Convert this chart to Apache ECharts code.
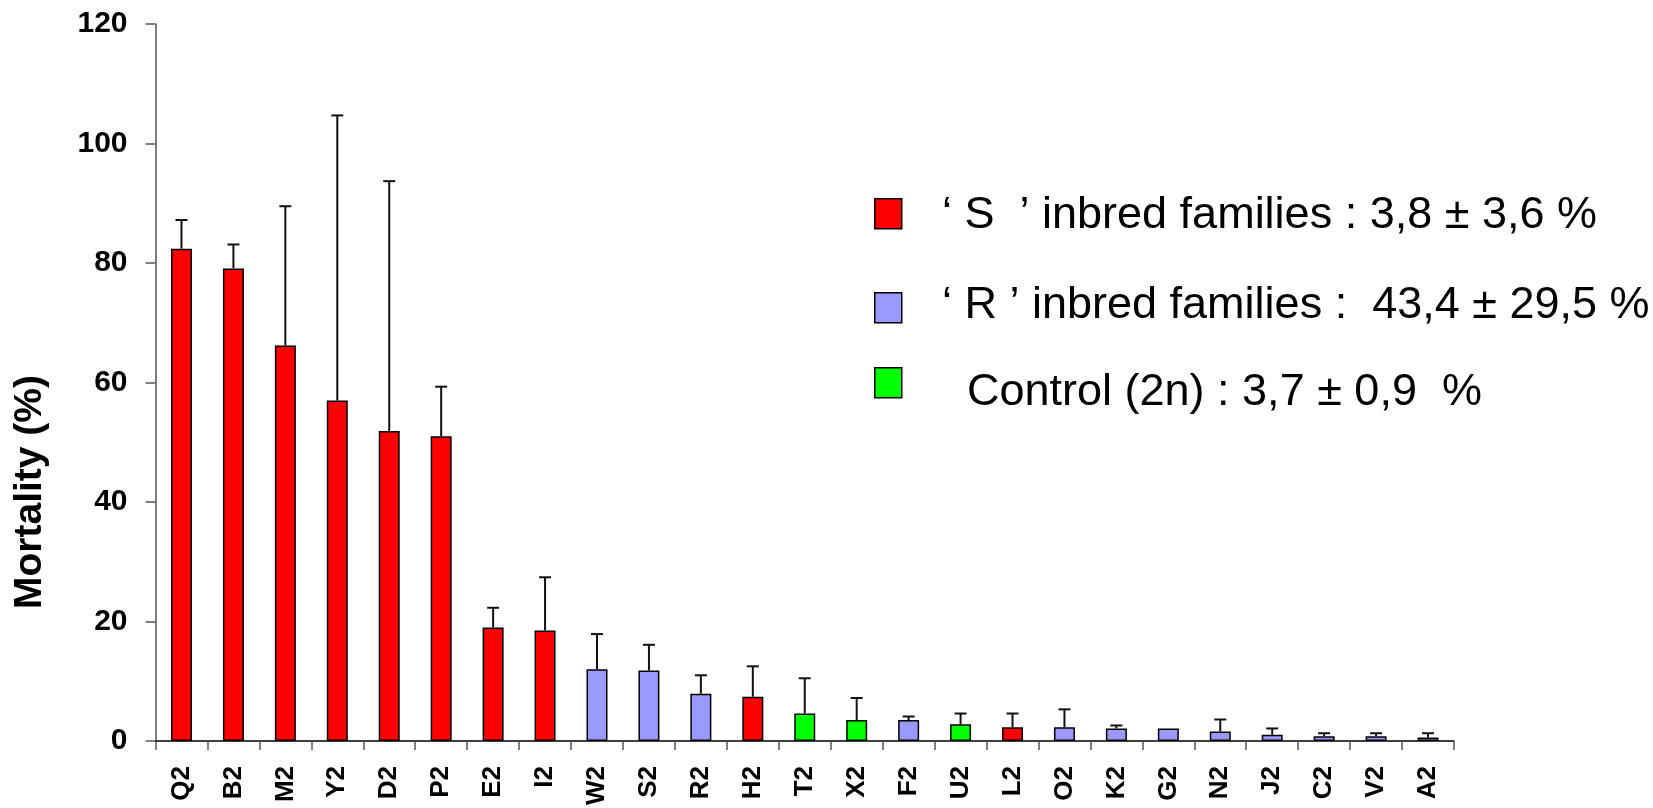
<!DOCTYPE html>
<html>
<head>
<meta charset="utf-8">
<script src="https://cdn.jsdelivr.net/npm/echarts@6.0.0/dist/echarts.min.js"></script>
<style>
html,body{margin:0;padding:0;background:#fff;}
#chart{width:1653px;height:808px;}
</style>
</head>
<body>
<div id="chart"></div>
<script>
// ---- data ----
var categories = ['Q2','B2','M2','Y2','D2','P2','E2','I2','W2','S2','R2','H2','T2','X2','F2','U2','L2','O2','K2','G2','N2','J2','C2','V2','A2'];
var mortality  = [82.4, 79.1, 66.2, 57.0, 51.9, 51.0, 19.0, 18.5, 12.0, 11.8, 7.9, 7.4, 4.6, 3.5, 3.5, 2.8, 2.3, 2.3, 2.1, 2.1, 1.6, 1.05, 0.8, 0.8, 0.6];
var errorUp    = [4.8, 4.0, 23.3, 47.7, 41.8, 8.3, 3.3, 8.9, 5.9, 4.3, 3.1, 5.1, 5.9, 3.7, 0.6, 1.8, 2.3, 3.0, 0.5, 0, 2.0, 1.05, 0.5, 0.5, 0.7];
var groups     = ['S','S','S','S','S','S','S','S','R','R','R','S','C','C','R','C','S','R','R','R','R','R','R','R','R'];
var yTicks     = {min: 0, max: 120, interval: 20};
var seriesNames = {
  S: '\u2018 S  \u2019 inbred families : 3,8 \u00B1 3,6 %',
  R: '\u2018 R \u2019 inbred families :  43,4 \u00B1 29,5 %',
  C: 'Control (2n) : 3,7 \u00B1 0,9  %'
};
var groupColors = {S: '#FF0000', R: '#9999FF', C: '#00FF00'};

function groupData(g) {
  return mortality.map(function (v, i) { return groups[i] === g ? v : '-'; });
}

var chart = echarts.init(document.getElementById('chart'), null, {renderer: 'canvas'});

var barSeries = ['S', 'R', 'C'].map(function (g) {
  return {
    name: seriesNames[g],
    type: 'bar',
    data: groupData(g),
    barWidth: 21,
    barGap: '-100%',
    itemStyle: {color: groupColors[g], borderColor: '#000', borderWidth: 1.5},
    emphasis: {disabled: true},
    z: 2
  };
});

var errSeries = {
  type: 'custom',
  name: 'err',
  z: 3,
  data: mortality.map(function (v, i) { return [i, v, v + errorUp[i]]; }),
  renderItem: function (params, api) {
    var idx = api.value(0);
    var lo = api.coord([idx, api.value(1)]);
    var hi = api.coord([idx, api.value(2)]);
    if (api.value(2) - api.value(1) <= 0) return null;
    var half = 6;
    var st = {stroke: '#111', lineWidth: 2};
    return {
      type: 'group',
      children: [
        {type: 'line', shape: {x1: lo[0], y1: lo[1], x2: hi[0], y2: hi[1]}, style: st},
        {type: 'line', shape: {x1: hi[0] - half, y1: hi[1], x2: hi[0] + half, y2: hi[1]}, style: st}
      ]
    };
  },
  silent: true
};

// legend marker (icon only)
function legendMarker(g, centerY) {
  return {
    data: [seriesNames[g]],
    left: 874,
    top: centerY - 15,
    padding: 0,
    itemWidth: 27,
    itemHeight: 30,
    icon: 'rect',
    selectedMode: false,
    formatter: function () { return ''; },
    itemStyle: {borderColor: '#000', borderWidth: 1.5},
    textStyle: {fontSize: 10, lineHeight: 10}
  };
}
// legend text (no icon)
function legendText(g, centerY, left) {
  return {
    data: [seriesNames[g]],
    left: left,
    top: centerY - 25,
    padding: 0,
    itemWidth: 0,
    itemHeight: 0,
    icon: 'none',
    selectedMode: false,
    textStyle: {
      fontFamily: 'Liberation Sans, Arial, sans-serif',
      fontSize: 45,
      color: '#000',
      lineHeight: 50
    }
  };
}

var option = {
  animation: false,
  backgroundColor: '#fff',
  grid: {left: 155.5, right: 199, top: 24, bottom: 65, containLabel: false},
  legend: [
    legendMarker('S', 213),
    legendMarker('R', 307),
    legendMarker('C', 382),
    legendText('S', 216, 937),
    legendText('R', 306, 937),
    legendText('C', 393, 962)
  ],
  xAxis: {
    type: 'category',
    data: categories,
    boundaryGap: true,
    axisLine: {lineStyle: {color: '#000', width: 1.5}},
    axisTick: {show: true, length: 9, lineStyle: {color: '#555', width: 1.5}},
    axisLabel: {
      rotate: 90,
      margin: 25,
      interval: 0,
      color: '#000',
      fontFamily: 'Liberation Sans, Arial, sans-serif',
      fontWeight: 'bold',
      fontSize: 26
    },
    splitLine: {show: false}
  },
  yAxis: {
    type: 'value',
    min: yTicks.min,
    max: yTicks.max,
    interval: yTicks.interval,
    axisLine: {show: true, lineStyle: {color: '#555', width: 1.5}},
    axisTick: {show: true, length: 10, lineStyle: {color: '#555', width: 1.5}},
    axisLabel: {
      margin: 28,
      color: '#000',
      fontFamily: 'Liberation Sans, Arial, sans-serif',
      fontWeight: 'bold',
      fontSize: 30
    },
    splitLine: {show: false}
  },
  graphic: [{
    type: 'text',
    x: 30,
    y: 492,
    rotation: Math.PI / 2,
    style: {
      text: 'Mortality (%)',
      fontFamily: 'Liberation Sans, Arial, sans-serif',
      fontWeight: 'bold',
      fontSize: 39,
      fill: '#000',
      align: 'center',
      verticalAlign: 'middle'
    }
  }],
  series: barSeries.concat([errSeries])
};

chart.setOption(option);
</script>
</body>
</html>
